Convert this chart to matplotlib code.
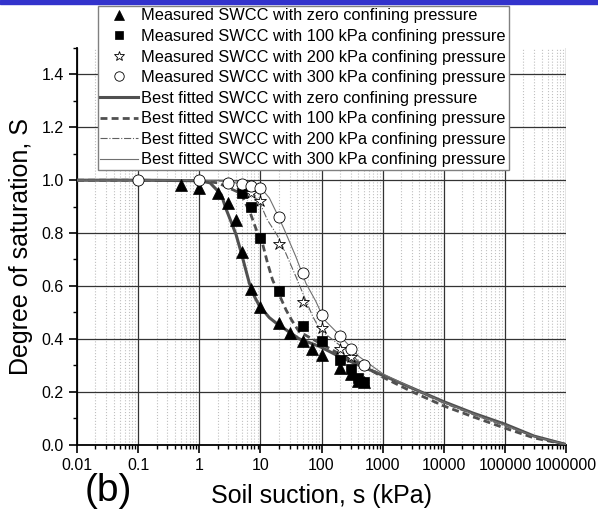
import matplotlib
matplotlib.use("Agg")
import matplotlib.pyplot as plt
from matplotlib.patches import Rectangle
from matplotlib.ticker import FixedLocator, NullFormatter

plt.rcParams["font.family"] = ["Liberation Sans", "DejaVu Sans"]

# measured points
s_zero = [0.5, 1, 2, 3, 4, 5, 7, 10, 20, 30, 50, 70, 100, 200, 300, 400, 500]
S_zero = [0.98, 0.97, 0.95, 0.915, 0.85, 0.73, 0.59, 0.52, 0.46, 0.42, 0.39, 0.36, 0.34, 0.29, 0.265, 0.24, 0.235]

s_100 = [5, 7, 10, 20, 50, 100, 200, 300, 400, 500]
S_100 = [0.95, 0.90, 0.78, 0.58, 0.45, 0.39, 0.32, 0.285, 0.25, 0.235]

s_200 = [7, 10, 20, 50, 100, 200, 300]
S_200 = [0.95, 0.92, 0.76, 0.54, 0.44, 0.36, 0.33]

s_300 = [0.1, 1, 3, 5, 7, 10, 20, 50, 100, 200, 300, 500]
S_300 = [1.0, 1.0, 0.99, 0.985, 0.977, 0.97, 0.86, 0.65, 0.49, 0.41, 0.36, 0.30]

# fitted curves
fit_s0 = [0.01, 0.1, 1, 1.5, 2.3, 2.7, 3.3, 4, 4.8, 6.6, 8, 9.6, 14, 18, 43, 95, 195, 410,
          1000, 3000, 10000, 30000, 100000, 300000, 1000000]
fit_S0 = [1.0, 1.0, 0.998, 0.99, 0.945, 0.895, 0.844, 0.794, 0.73, 0.61, 0.56, 0.525, 0.48, 0.46,
          0.40, 0.37, 0.333, 0.30, 0.262, 0.214, 0.162, 0.119, 0.077, 0.032, 0.0]

fit_s1 = [0.01, 0.1, 1, 2, 3.1, 4.8, 7, 9.6, 10.8, 13.1, 15.8, 20.4, 26.3, 32.6, 43, 95, 195, 410,
          1000, 3000, 10000, 30000, 100000, 300000, 1000000]
fit_S1 = [1.0, 1.0, 0.998, 0.99, 0.97, 0.95, 0.869, 0.781, 0.762, 0.686, 0.623, 0.566, 0.509, 0.47,
          0.427, 0.383, 0.343, 0.308, 0.255, 0.20, 0.146, 0.105, 0.062, 0.025, 0.0]

fit_s2 = [0.01, 0.1, 1, 3, 5, 7.5, 10, 13, 19, 26, 38, 52, 72, 95, 195, 410,
          1000, 3000, 10000, 30000, 100000, 300000, 1000000]
fit_S2 = [1.0, 1.0, 1.0, 0.995, 0.985, 0.955, 0.91, 0.85, 0.79, 0.724, 0.636, 0.56, 0.484, 0.434, 0.377, 0.314,
          0.262, 0.21, 0.156, 0.113, 0.07, 0.029, 0.0]

fit_s3 = [0.01, 0.1, 1, 3, 7, 10.2, 14, 19, 24.6, 38, 55.6, 81, 111, 195, 410,
          1000, 3000, 10000, 30000, 100000, 300000, 1000000]
fit_S3 = [1.0, 1.0, 1.0, 1.0, 0.99, 0.97, 0.933, 0.87, 0.813, 0.711, 0.61, 0.541, 0.472, 0.415, 0.333,
          0.268, 0.215, 0.16, 0.117, 0.074, 0.031, 0.0]

xticks = [0.01, 0.1, 1, 10, 100, 1000, 10000, 100000, 1000000]
xticklabels = ["0.01", "0.1", "1", "10", "100", "1000", "10000", "100000", "1000000"]
yticks = [0.0, 0.2, 0.4, 0.6, 0.8, 1.0, 1.2, 1.4]
yticklabels = ["0.0", "0.2", "0.4", "0.6", "0.8", "1.0", "1.2", "1.4"]

fig = plt.figure(figsize=(5.98, 5.13), dpi=100)
ax = fig.add_axes([0.1288, 0.1335, 0.8177, 0.7729])

# top blue bar of the slide
fig.patches.append(Rectangle((0, 1 - 4 / 513), 1, 4 / 513, transform=fig.transFigure,
                             color="#3333cc", zorder=10))

m1, = ax.plot(s_zero, S_zero, "^", color="black", ms=8, mew=0.5, ls="none",
              label="Measured SWCC with zero confining pressure", zorder=5)
m2, = ax.plot(s_100, S_100, "s", color="black", ms=6.5, mew=0.5, ls="none",
              label="Measured SWCC with 100 kPa confining pressure", zorder=5)
m3, = ax.plot(s_200, S_200, "*", mfc="white", mec="black", ms=9, mew=0.6, ls="none",
              label="Measured SWCC with 200 kPa confining pressure", zorder=5)
m4, = ax.plot(s_300, S_300, "o", mfc="white", mec="black", ms=8, mew=0.6, ls="none",
              label="Measured SWCC with 300 kPa confining pressure", zorder=5)

l1, = ax.plot(fit_s0, fit_S0, "-", color="#505050", lw=2.2,
              label="Best fitted SWCC with zero confining pressure", zorder=4)
l2, = ax.plot(fit_s1, fit_S1, "--", color="#505050", lw=2.0, dashes=(2.5, 1.5),
              label="Best fitted SWCC with 100 kPa confining pressure", zorder=4)
l3, = ax.plot(fit_s2, fit_S2, "-.", color="#606060", lw=0.8,
              label="Best fitted SWCC with 200 kPa confining pressure", zorder=4)
l4, = ax.plot(fit_s3, fit_S3, "-", color="#707070", lw=0.8,
              label="Best fitted SWCC with 300 kPa confining pressure", zorder=4)

ax.set_xscale("log")
ax.set_xlim(0.01, 1000000)
ax.set_ylim(0, 1.5)
ax.set_xticks(xticks)
ax.set_xticklabels(xticklabels, fontsize=11.5)
ax.set_yticks(yticks)
ax.set_yticklabels(yticklabels, fontsize=11.5)
ax.yaxis.set_minor_locator(FixedLocator([0.1, 0.3, 0.5, 0.7, 0.9, 1.1, 1.3, 1.5]))
ax.xaxis.set_minor_formatter(NullFormatter())
ax.tick_params(which="major", direction="out", length=6, width=1.2)
ax.tick_params(which="minor", direction="out", length=3, width=1)

ax.grid(which="major", color="#333333", lw=0.9)
ax.grid(which="minor", axis="x", color="#c0c0c0", ls=":", lw=0.8)
ax.set_axisbelow(True)

for side in ["top", "right"]:
    ax.spines[side].set_visible(False)
for side in ["left", "bottom"]:
    ax.spines[side].set_linewidth(1.3)

ax.set_xlabel("Soil suction, s (kPa)", fontsize=18, labelpad=8)
ax.set_ylabel("Degree of saturation, S", fontsize=18, labelpad=6)

leg = ax.legend(handles=[m1, m2, m3, m4, l1, l2, l3, l4], loc="upper left",
                bbox_to_anchor=(98 / 598, 1 - 6 / 513), bbox_transform=fig.transFigure,
                fontsize=11.8, labelspacing=0.34, handlelength=2.3, handletextpad=0.2,
                borderpad=0.15, borderaxespad=0, fancybox=False, framealpha=1,
                edgecolor="#808080", markerscale=0.85)
leg.get_frame().set_linewidth(1.0)
leg.set_zorder(20)

fig.text(108 / 598, 1 - 473 / 513, "(b)", ha="center", va="top", fontsize=28)

fig.savefig("out.png", dpi=100)
